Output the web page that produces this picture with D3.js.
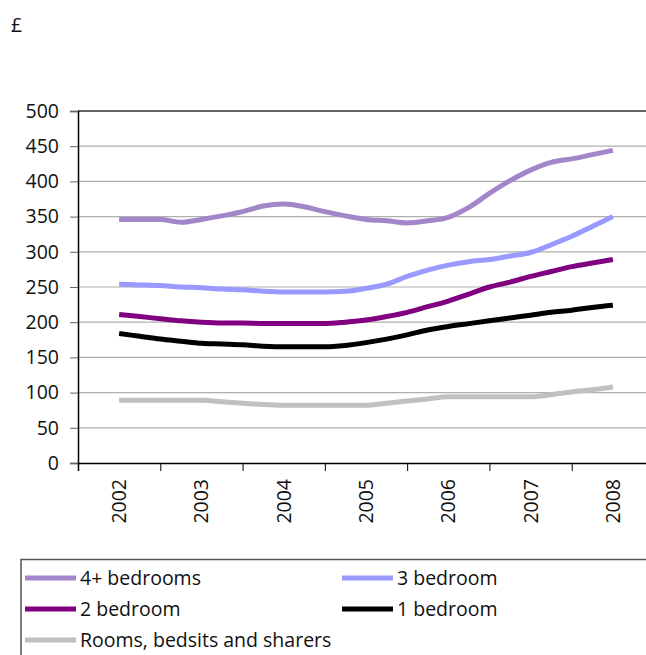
<!DOCTYPE html>
<html>
<head>
<meta charset="utf-8">
<script src="https://cdn.jsdelivr.net/npm/d3@7/dist/d3.min.js"></script>
<style>
  html, body { margin: 0; padding: 0; background: #fff; }
  svg { display: block; }
  text { font-family: "Open Sans", "DejaVu Sans", sans-serif; fill: #111; }
</style>
</head>
<body>
<svg id="chart" width="646" height="655"></svg>
<script>
// ---- data (quarterly, 2002 to 2008) ----
const years = [2002, 2003, 2004, 2005, 2006, 2007, 2008];
const yTicks = [0, 50, 100, 150, 200, 250, 300, 350, 400, 450, 500];
const quarters = d3.range(25).map(i => 2002 + i / 4);

const seriesNames = ["4+ bedrooms", "3 bedroom", "2 bedroom", "1 bedroom", "Rooms, bedsits and sharers"];
const colors = ["#a385c9", "#9999ff", "#800080", "#000000", "#c0c0c0"];

const fourPlus = [346, 346, 346, 342, 346, 351, 357, 365, 368, 364, 357, 351, 346, 344, 341, 344, 349, 363, 383, 401, 416, 427, 432, 438, 444];
const threeBed = [254, 253, 252, 250, 249, 247, 246, 244, 243, 243, 243, 244, 248, 254, 265, 274, 281, 286, 289, 294, 299, 310, 322, 336, 350];
const twoBed   = [211, 208, 205, 202, 200, 199, 199, 198, 198, 198, 198, 200, 203, 208, 214, 222, 230, 240, 250, 257, 265, 272, 279, 284, 289];
const oneBed   = [184, 180, 176, 173, 170, 169, 168, 166, 165, 165, 165, 167, 171, 176, 182, 189, 194, 198, 202, 206, 210, 214, 217, 221, 224];
const rooms    = [89, 89, 89, 89, 89, 87, 85, 83, 82, 82, 82, 82, 82, 85, 88, 91, 94, 94, 94, 94, 94, 97, 101, 104, 108];

const seriesValues = [fourPlus, threeBed, twoBed, oneBed, rooms];

// ---- layout ----
const FS = 19.5;
const svg = d3.select("#chart");
const x = d3.scaleLinear().domain([2001.5, 2008.5]).range([78, 654]);
const y = d3.scaleLinear().domain([0, 500]).range([463, 111]);

// currency label
svg.append("text").attr("x", 11).attr("y", 32).attr("font-size", FS).text("£");

// gridlines
svg.append("g").selectAll("line").data(yTicks.filter(d => d > 0 && d < 500)).join("line")
  .attr("x1", 78).attr("x2", 654)
  .attr("y1", d => y(d)).attr("y2", d => y(d))
  .attr("stroke", "#b0b0b0").attr("stroke-width", 1.2);

// top border of plot area
svg.append("line").attr("x1", 78).attr("x2", 654).attr("y1", y(500)).attr("y2", y(500))
  .attr("stroke", "#666").attr("stroke-width", 2);

// y axis
const yAxis = d3.axisLeft(y).tickValues(yTicks).tickSize(8).tickPadding(11).tickFormat(d3.format("d"));
const gy = svg.append("g").attr("transform", "translate(78,0)").call(yAxis);
gy.select(".domain").attr("stroke", "#000").attr("stroke-width", 1.5);
gy.selectAll(".tick line").attr("stroke", "#666");
gy.selectAll(".tick text").attr("font-size", FS).attr("fill", "#111")
  .attr("font-family", "'Open Sans', sans-serif");

// x axis (boundaries between years)
const xTickVals = d3.range(2001.5, 2009, 1);
const xAxis = d3.axisBottom(x).tickValues(xTickVals).tickSize(8).tickFormat("");
const gx = svg.append("g").attr("transform", `translate(0,${y(0)})`).call(xAxis);
gx.select(".domain").attr("stroke", "#000").attr("stroke-width", 1.5);
gx.selectAll(".tick line").attr("stroke", "#000");

// x labels rotated
svg.append("g").selectAll("text").data(years).join("text")
  .attr("transform", d => `translate(${x(d) + 7},479) rotate(-90)`)
  .attr("text-anchor", "end")
  .attr("font-size", FS)
  .text(d => d);

// lines
const line = d3.line()
  .x((d, i) => x(quarters[i]))
  .y(d => y(d))
  .curve(d3.curveMonotoneX);

const order = [4, 3, 2, 1, 0];
svg.append("g").selectAll("path").data(order).join("path")
  .attr("d", k => line(seriesValues[k]))
  .attr("fill", "none")
  .attr("stroke", k => colors[k])
  .attr("stroke-width", 5)
  .attr("stroke-linejoin", "round");

// legend
const lg = svg.append("g");
lg.append("path").attr("d", "M21,655 V559.5 H646")
  .attr("fill", "none").attr("stroke", "#555").attr("stroke-width", 1.5);
const legendPos = [
  {x: 25, y: 578}, {x: 342, y: 578},
  {x: 25, y: 609}, {x: 342, y: 609},
  {x: 25, y: 640}
];
seriesNames.forEach((name, k) => {
  const p = legendPos[k];
  lg.append("line").attr("x1", p.x).attr("x2", p.x + 51)
    .attr("y1", p.y).attr("y2", p.y)
    .attr("stroke", colors[k]).attr("stroke-width", 5);
  lg.append("text").attr("x", p.x + 55).attr("y", p.y)
    .attr("dy", "0.35em").attr("font-size", FS).text(name);
});
</script>
</body>
</html>
